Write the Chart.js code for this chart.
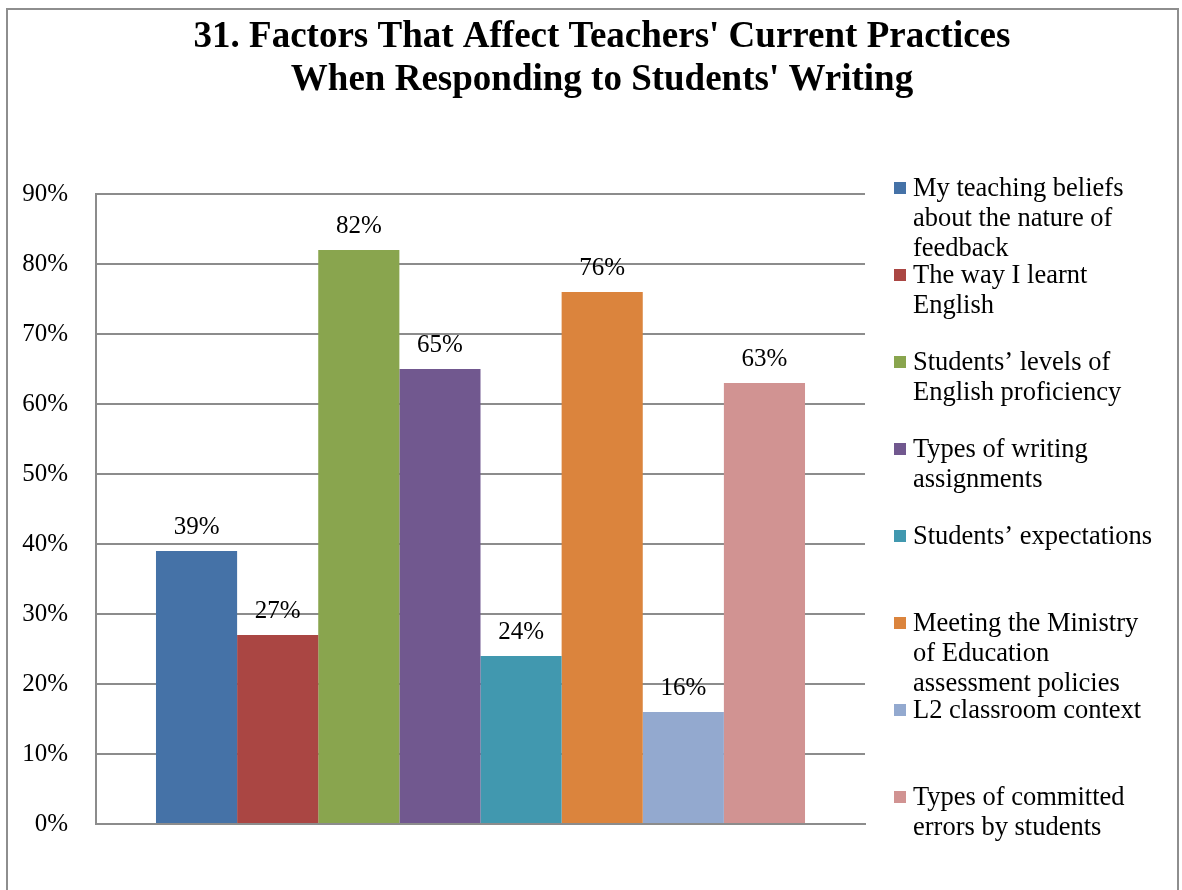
<!DOCTYPE html>
<html>
<head>
<meta charset="utf-8">
<script src="https://cdn.jsdelivr.net/npm/chart.js@4/dist/chart.umd.min.js"></script>
<style>
  html, body { margin: 0; padding: 0; background: #fff; }
  #wrap { position: relative; width: 1182px; height: 890px; }
</style>
</head>
<body>
<div id="wrap"><canvas id="factorsChart" width="1182" height="890"></canvas></div>
<script>
const titleLines = ["31. Factors That Affect Teachers' Current Practices", "When Responding to Students' Writing"];

const seriesNames = [
  ['My teaching beliefs', 'about the nature of', 'feedback'],
  ['The way I learnt', 'English'],
  ['Students\u2019 levels of', 'English proficiency'],
  ['Types of writing', 'assignments'],
  ['Students\u2019 expectations'],
  ['Meeting the Ministry', 'of Education', 'assessment policies'],
  ['L2 classroom context'],
  ['Types of committed', 'errors by students']
];
const seriesValues = [39, 27, 82, 65, 24, 76, 16, 63];
const seriesColors = ['#4572A7', '#AA4643', '#89A54E', '#71588F', '#4198AF', '#DB843D', '#93A9CF', '#D19392'];
const yTicks = [0, 10, 20, 30, 40, 50, 60, 70, 80, 90];

const SERIF = '"Liberation Serif", "Times New Roman", serif';

// title, frame, value labels and the right-hand legend
const decorations = {
  id: 'decorations',
  beforeDraw(chart) {
    const c = chart.ctx;
    c.save();
    c.fillStyle = '#fff';
    c.fillRect(0, 0, chart.width, chart.height);
    c.strokeStyle = '#8e8e8e';
    c.lineWidth = 2;
    c.strokeRect(7, 9, 1171, 900);
    c.restore();
  },
  afterDatasetsDraw(chart) {
    const c = chart.ctx;
    c.save();
    c.font = '25px ' + SERIF;
    c.fillStyle = '#000';
    c.textAlign = 'center';
    c.textBaseline = 'alphabetic';
    chart.data.datasets.forEach((ds, i) => {
      const bar = chart.getDatasetMeta(i).data[0];
      c.fillText(ds.data[0] + '%', bar.x, bar.y - 17.5);
    });
    c.restore();
  },
  afterDraw(chart) {
    const c = chart.ctx;
    c.save();
    c.fillStyle = '#000';
    c.textBaseline = 'alphabetic';

    c.font = 'bold 37px ' + SERIF;
    c.textAlign = 'center';
    titleLines.forEach((t, i) => c.fillText(t, 602, 47 + i * 43));

    c.font = '26.5px ' + SERIF;
    c.textAlign = 'left';
    chart.data.datasets.forEach((ds, i) => {
      const base = 196 + i * 87;
      c.fillStyle = ds.backgroundColor;
      c.fillRect(894, base - 14, 12, 12);
      c.fillStyle = '#000';
      seriesNames[i].forEach((line, j) => c.fillText(line, 913, base + j * 30));
    });
    c.restore();
  }
};

new Chart(document.getElementById('factorsChart'), {
  type: 'bar',
  data: {
    labels: [''],
    datasets: seriesNames.map((name, i) => ({
      label: name.join(' '),
      data: [seriesValues[i]],
      backgroundColor: seriesColors[i],
      borderWidth: 0,
      barPercentage: 1,
      categoryPercentage: 0.844
    }))
  },
  options: {
    responsive: false,
    animation: false,
    devicePixelRatio: 1,
    layout: { padding: { top: 194, bottom: 66, left: 0, right: 317 } },
    plugins: {
      legend: { display: false },
      title: { display: false },
      tooltip: { enabled: false }
    },
    scales: {
      x: {
        grid: { display: false, drawTicks: false },
        border: { display: true, color: '#8c8c8c', width: 2 },
        ticks: { display: false },
        afterFit: s => { s.height = 0; }
      },
      y: {
        min: 0,
        max: 90,
        afterBuildTicks: s => { s.ticks = yTicks.map(v => ({ value: v })); },
        grid: { color: '#8c8c8c', lineWidth: 2, drawTicks: false },
        border: { display: true, color: '#8c8c8c', width: 2 },
        ticks: {
          padding: 28,
          color: '#000',
          font: { family: SERIF, size: 25 },
          callback: v => v + '%'
        },
        afterFit: s => { s.width = 96; }
      }
    }
  },
  plugins: [decorations]
});
</script>
</body>
</html>
